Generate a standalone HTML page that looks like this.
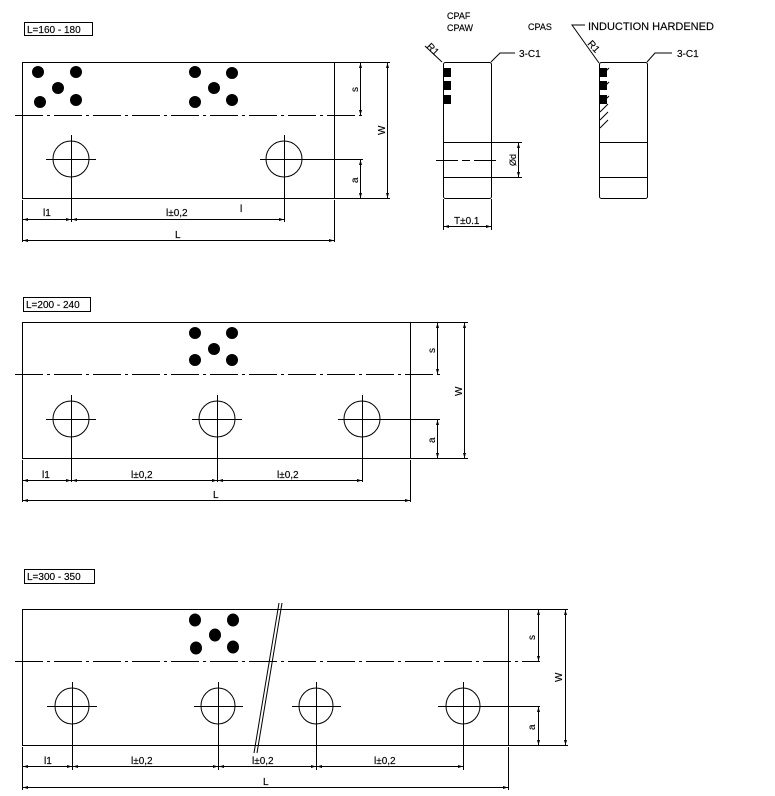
<!DOCTYPE html>
<html><head><meta charset="utf-8"><style>
html,body{margin:0;padding:0;background:#fff;}
svg{display:block;}
text{font-family:"Liberation Sans",Arial,sans-serif;font-size:10px;fill:#000;stroke:#000;stroke-width:0.15px;}
</style></head><body>
<svg width="775" height="796" viewBox="0 0 775 796" xmlns="http://www.w3.org/2000/svg">
<defs>
<marker id="a" viewBox="0 0 10 10" refX="10" refY="5" markerWidth="8" markerHeight="5" orient="auto-start-reverse"><path d="M0,2 L10,5 L0,8z" fill="#000"/></marker>
</defs>
<g stroke="#000" stroke-width="1" fill="none">
<!-- VIEW 1 -->
<rect x="24.5" y="22.5" width="68" height="13"/>
<rect x="22.5" y="62.5" width="312" height="136"/>
<line x1="15" y1="115.5" x2="362" y2="115.5" stroke-dasharray="28,4,3,4"/>
<circle cx="71" cy="159" r="18"/><circle cx="284" cy="159" r="18"/>
<path d="M71.5 135V222M46 159.5H96M284.5 135V222M260 159.5H363"/>
<path d="M334 62.5H390M334 198.5H390M22.5 200V242M334.5 200V242"/>
<line x1="360.5" y1="63" x2="360.5" y2="115" marker-start="url(#a)" marker-end="url(#a)"/>
<line x1="360.5" y1="160" x2="360.5" y2="198" marker-start="url(#a)" marker-end="url(#a)"/>
<line x1="387.5" y1="63" x2="387.5" y2="198" marker-start="url(#a)" marker-end="url(#a)"/>
<line x1="23" y1="219.5" x2="71" y2="219.5" marker-start="url(#a)" marker-end="url(#a)"/>
<line x1="72" y1="219.5" x2="284" y2="219.5" marker-start="url(#a)" marker-end="url(#a)"/>
<line x1="23" y1="240.5" x2="334" y2="240.5" marker-start="url(#a)" marker-end="url(#a)"/>
<!-- side views -->
<rect x="443.5" y="62.5" width="48" height="136" rx="2"/>
<path d="M443 142.5H492M443 177.5H492M492 142.5H522M492 177.5H522"/>
<line x1="436" y1="160.5" x2="499" y2="160.5" stroke-dasharray="22,4,8,4"/>
<line x1="518.5" y1="143" x2="518.5" y2="177" marker-start="url(#a)" marker-end="url(#a)"/>
<path d="M443.5 199V230M491.5 199V230"/>
<line x1="444" y1="226.5" x2="491" y2="226.5" marker-start="url(#a)" marker-end="url(#a)"/>
<path d="M425 46L442 62M491 62L500 53H515"/>
<rect x="599.5" y="62.5" width="48" height="136" rx="2"/>
<path d="M599 142.5H648M599 177.5H648"/>
<path d="M585 25H572L599 63M647 62L655 53H672"/>
<path d="M605 72l4-4M605 86l4-4M605 100l4-4M600 112l8-8M600 120l8-8M600 128l8-8"/>
<!-- VIEW 2 -->
<rect x="23.5" y="297.5" width="67" height="14"/>
<rect x="22.5" y="322.5" width="388" height="136"/>
<line x1="15" y1="374.5" x2="440" y2="374.5" stroke-dasharray="28,4,3,4"/>
<circle cx="71" cy="419" r="18"/><circle cx="217" cy="419" r="18"/><circle cx="362" cy="419" r="18"/>
<path d="M71.5 395V482M46 419.5H96M217.5 395V482M192 419.5H242M362.5 395V482M338 419.5H440"/>
<path d="M410 322.5H468M410 458.5H468M22.5 460V502M410.5 460V502"/>
<line x1="437.5" y1="323" x2="437.5" y2="374" marker-start="url(#a)" marker-end="url(#a)"/>
<line x1="437.5" y1="420" x2="437.5" y2="458" marker-start="url(#a)" marker-end="url(#a)"/>
<line x1="464.5" y1="323" x2="464.5" y2="458" marker-start="url(#a)" marker-end="url(#a)"/>
<line x1="23" y1="480.5" x2="71" y2="480.5" marker-start="url(#a)" marker-end="url(#a)"/>
<line x1="72" y1="480.5" x2="217" y2="480.5" marker-start="url(#a)" marker-end="url(#a)"/>
<line x1="218" y1="480.5" x2="362" y2="480.5" marker-start="url(#a)" marker-end="url(#a)"/>
<line x1="23" y1="500.5" x2="410" y2="500.5" marker-start="url(#a)" marker-end="url(#a)"/>
<!-- VIEW 3 -->
<rect x="24.5" y="569.5" width="70" height="14"/>
<rect x="22.5" y="609.5" width="486" height="136"/>
<line x1="15" y1="661.5" x2="540" y2="661.5" stroke-dasharray="28,4,3,4"/>
<ellipse cx="72" cy="706" rx="17" ry="18"/><ellipse cx="218" cy="706" rx="17" ry="18"/><ellipse cx="316" cy="706" rx="17" ry="18"/><ellipse cx="463" cy="706" rx="17" ry="18"/>
<path d="M72.5 682V770M47 706.5H97M218.5 682V770M194 706.5H243M316.5 682V770M292 706.5H341M463.5 682V770M438 706.5H540"/>
<path d="M508 609.5H568M508 745.5H568M22.5 747V790M508.5 747V790"/>
<line x1="538.5" y1="610" x2="538.5" y2="661" marker-start="url(#a)" marker-end="url(#a)"/>
<line x1="538.5" y1="707" x2="538.5" y2="745" marker-start="url(#a)" marker-end="url(#a)"/>
<line x1="565.5" y1="610" x2="565.5" y2="745" marker-start="url(#a)" marker-end="url(#a)"/>
<line x1="23" y1="766.5" x2="72" y2="766.5" marker-start="url(#a)" marker-end="url(#a)"/>
<line x1="73" y1="766.5" x2="218" y2="766.5" marker-start="url(#a)" marker-end="url(#a)"/>
<line x1="219" y1="766.5" x2="316" y2="766.5" marker-start="url(#a)" marker-end="url(#a)"/>
<line x1="317" y1="766.5" x2="463" y2="766.5" marker-start="url(#a)" marker-end="url(#a)"/>
<line x1="23" y1="787.5" x2="508" y2="787.5" marker-start="url(#a)" marker-end="url(#a)"/>
<path d="M254 753L279 603M257 753L282 603"/>
</g>
<g fill="#000">
<circle cx="38" cy="72" r="6"/><circle cx="76" cy="72" r="6"/><circle cx="58" cy="88" r="6"/><circle cx="40" cy="102" r="6"/><circle cx="76" cy="100" r="6"/>
<circle cx="195" cy="72" r="6"/><circle cx="232" cy="73" r="6"/><circle cx="214" cy="88" r="6"/><circle cx="195" cy="102" r="6"/><circle cx="232" cy="100" r="6"/>
<circle cx="195" cy="333" r="6"/><circle cx="232" cy="333" r="6"/><circle cx="214" cy="349" r="6"/><circle cx="195" cy="360" r="6"/><circle cx="232" cy="360" r="6"/>
<ellipse cx="195" cy="620" rx="6" ry="6.5"/><ellipse cx="233" cy="620" rx="6" ry="6.5"/><ellipse cx="215" cy="635" rx="6" ry="6.5"/><ellipse cx="196" cy="648" rx="6" ry="6.5"/><ellipse cx="233" cy="647" rx="6" ry="6.5"/>
<rect x="444" y="68" width="7" height="9"/><rect x="444" y="81" width="7" height="9"/><rect x="444" y="95" width="7" height="9"/>
<rect x="600" y="68" width="7" height="9"/><rect x="600" y="81" width="7" height="9"/><rect x="600" y="95" width="7" height="9"/>
</g>
<text x="27" y="33">L=160 - 180</text>
<text x="26" y="308">L=200 - 240</text>
<text x="27" y="580">L=300 - 350</text>
<text x="43" y="216">l1</text><text x="166" y="216">l±0,2</text><text x="240" y="212">l</text><text x="175" y="238">L</text>
<text x="42" y="478">l1</text><text x="131" y="478">l±0,2</text><text x="277" y="478">l±0,2</text><text x="213" y="498">L</text>
<text x="44" y="764">l1</text><text x="131" y="764">l±0,2</text><text x="252" y="764">l±0,2</text><text x="374" y="764">l±0,2</text><text x="263" y="785">L</text>
<text transform="translate(358,92) rotate(-90)">s</text>
<text transform="translate(358,183) rotate(-90)">a</text>
<text transform="translate(385,135) rotate(-90)">W</text>
<text transform="translate(435,353) rotate(-90)">s</text>
<text transform="translate(435,443) rotate(-90)">a</text>
<text transform="translate(462,396) rotate(-90)">W</text>
<text transform="translate(535,640) rotate(-90)">s</text>
<text transform="translate(535,730) rotate(-90)">a</text>
<text transform="translate(562,682) rotate(-90)">W</text>
<text transform="translate(516,166) rotate(-90)" style="font-size:9px">Ød</text>
<text x="454" y="224">T±0.1</text>
<text x="447" y="19" style="font-size:9px">CPAF</text>
<text x="447" y="31" style="font-size:9px">CPAW</text>
<text x="528" y="30" style="font-size:9px">CPAS</text>
<text x="588" y="30" style="font-size:11px">INDUCTION HARDENED</text>
<text x="519" y="57">3-C1</text>
<text x="677" y="57">3-C1</text>
<text transform="translate(426,47) rotate(45)">R1</text>
<text transform="translate(587,44) rotate(48)">R1</text>
</svg>
</body></html>
